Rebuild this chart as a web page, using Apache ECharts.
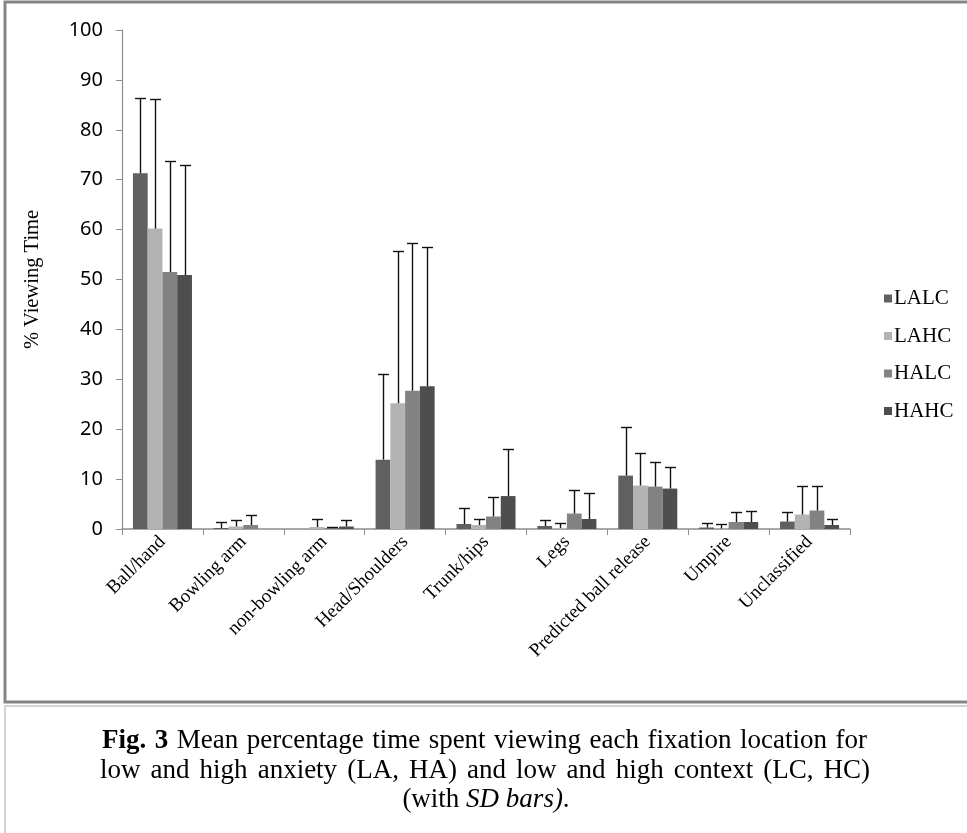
<!DOCTYPE html>
<html>
<head>
<meta charset="utf-8">
<script src="https://cdn.jsdelivr.net/npm/echarts@6/dist/echarts.min.js"></script>
<style>
html,body{margin:0;padding:0;background:#fff;}
#chart{width:967px;height:833px;}
</style>
</head>
<body>
<div id="chart"></div>
<script>
const categories = ['Ball/hand','Bowling arm','non-bowling arm','Head/Shoulders','Trunk/hips','Legs','Predicted ball release','Umpire','Unclassified'];
const seriesNames = ['LALC','LAHC','HALC','HAHC'];
const meanLALC = [71.3, 0.2, 0, 13.9, 1.0, 0.6, 10.7, 0.3, 1.5];
const meanLAHC = [60.2, 0.5, 0.4, 25.2, 0.8, 0.2, 8.7, 0.1, 2.9];
const meanHALC = [51.5, 0.8, 0.2, 27.7, 2.5, 3.1, 8.5, 1.4, 3.7];
const meanHAHC = [50.9, 0, 0.5, 28.6, 6.6, 2.0, 8.1, 1.4, 0.8];
const sdLALC = [15.0, 1.2, 0, 17.1, 3.2, 1.2, 9.7, 0.9, 2.0];
const sdLAHC = [25.9, 1.4, 1.6, 30.6, 1.2, 1.0, 6.6, 0.9, 5.8];
const sdHALC = [22.2, 2.1, 0.3, 29.7, 4.0, 4.7, 4.9, 2.1, 5.0];
const sdHAHC = [22.0, 0, 1.3, 28.0, 9.5, 5.2, 4.4, 2.2, 1.2];
const yTicks = [0,10,20,30,40,50,60,70,80,90,100];
// caption: justified first two lines, centred last line
const captionLine1 = [['Fig.', 'b'], ['3', 'b'], ['Mean'], ['percentage'], ['time'], ['spent'], ['viewing'], ['each'], ['fixation'], ['location'], ['for']];
const captionLine2 = [['low'], ['and'], ['high'], ['anxiety'], ['(LA,'], ['HA)'], ['and'], ['low'], ['and'], ['high'], ['context'], ['(LC,'], ['HC)']];
const captionLine3 = '(with {i|SD bars)}.';

const means = [meanLALC, meanLAHC, meanHALC, meanHAHC];
const sds = [sdLALC, sdLAHC, sdHALC, sdHAHC];
const colors = ['#606060','#b3b3b3','#828282','#4e4e4e'];
const gapRatio = 0.27;
const capFont = 27;

const chart = echarts.init(document.getElementById('chart'));

const barSeries = seriesNames.map((n, si) => ({
  name: n, type: 'bar', data: means[si],
  barGap: '0%', barCategoryGap: (gapRatio*100) + '%',
  itemStyle: { color: colors[si] },
  emphasis: { disabled: true },
  z: 2
}));

const errSeries = seriesNames.map((n, si) => ({
  name: n + ' SD', type: 'custom',
  encode: { x: 0, y: 1 },
  data: categories.map((c, i) => [i, means[si][i], sds[si][i]]),
  z: 10,
  silent: true,
  renderItem: function (params, api) {
    const cat = api.value(0), mean = api.value(1), sd = api.value(2);
    if (!sd) return null;
    const base = api.coord([cat, mean]);
    const top = api.coord([cat, mean + sd]);
    const band = api.size([1, 0])[0];
    const bw = band * (1 - gapRatio) / 4;
    const x = Math.round(base[0] - 2 * bw + (si + 0.5) * bw) + 0.5;
    const yt = Math.round(top[1]) + 0.5;
    const st = { stroke: '#111', lineWidth: 1.4 };
    return {
      type: 'group', children: [
        { type: 'line', shape: { x1: x, y1: base[1], x2: x, y2: yt }, style: st },
        { type: 'line', shape: { x1: x - 5.5, y1: yt, x2: x + 5.5, y2: yt }, style: st }
      ]
    };
  }
}));

// justified caption layout
const mctx = document.createElement('canvas').getContext('2d');
function wordWidth(w, bold) {
  mctx.font = (bold ? 'bold ' : '') + capFont + 'px "Liberation Serif"';
  return mctx.measureText(w).width;
}
function justify(words, x0, x1, y) {
  const ws = words.map(w => wordWidth(w[0], w[1] === 'b'));
  const total = ws.reduce((a, b) => a + b, 0);
  const gap = (x1 - x0 - total) / (words.length - 1);
  let x = x0;
  return words.map((w, k) => {
    const el = {
      type: 'text', x: x, y: y, silent: true,
      style: { text: w[0], fontFamily: 'Liberation Serif', fontSize: capFont, fontWeight: w[1] === 'b' ? 'bold' : 'normal',
        fill: '#000', align: 'left', verticalAlign: 'middle' }
    };
    x += ws[k] + gap;
    return el;
  });
}

const option = {
  animation: false,
  backgroundColor: '#fff',
  grid: { left: 122, right: 117, top: 30, bottom: 304, containLabel: false },
  legend: {
    data: seriesNames,
    orient: 'vertical',
    left: 879, top: 283,
    icon: 'rect', itemWidth: 8, itemHeight: 8, itemGap: 16.5,
    textStyle: { fontFamily: 'Liberation Serif', fontSize: 21, color: '#000', padding: [0,0,0,-3] },
    selectedMode: false
  },
  xAxis: {
    type: 'category', data: categories,
    axisLine: { lineStyle: { color: '#8c8c8c', width: 1.5 } },
    axisTick: { show: true, length: 6, lineStyle: { color: '#8c8c8c' } },
    axisLabel: { rotate: 45, fontFamily: 'Liberation Serif', fontSize: 19, color: '#000', margin: 10, interval: 0 },
    splitLine: { show: false }
  },
  yAxis: {
    type: 'value', min: 0, max: 100, interval: 10,
    name: '% Viewing Time', nameLocation: 'middle', nameGap: 79,
    nameTextStyle: { fontFamily: 'Liberation Serif', fontSize: 20.5, color: '#000' },
    axisLine: { show: true, lineStyle: { color: '#8c8c8c', width: 1.2 } },
    axisTick: { show: true, length: 6, lineStyle: { color: '#8c8c8c' } },
    axisLabel: { fontFamily: 'Noto Sans', fontSize: 20, color: '#000', margin: 19,
      formatter: v => yTicks.includes(v) ? String(v) : '' },
    splitLine: { show: false }
  },
  graphic: [
    { type: 'rect', shape: { x: 5, y: 2, width: 980, height: 700 }, style: { fill: 'none', stroke: '#858585', lineWidth: 3 }, silent: true, z: -1 },
    { type: 'rect', shape: { x: 5, y: 706, width: 980, height: 140 }, style: { fill: 'none', stroke: '#d4d4d4', lineWidth: 2 }, silent: true, z: -1 }
  ].concat(justify(captionLine1, 102, 867, 741))
   .concat(justify(captionLine2, 100, 870, 771))
   .concat([{
    type: 'text', x: 486, y: 800, silent: true,
    style: { text: captionLine3, fontFamily: 'Liberation Serif', fontSize: capFont, fill: '#000', align: 'center', verticalAlign: 'middle',
      rich: { i: { fontFamily: 'Liberation Serif', fontSize: capFont, fontStyle: 'italic', fill: '#000' } } }
  }]),
  series: barSeries.concat(errSeries)
};
chart.setOption(option);
</script>
</body>
</html>
